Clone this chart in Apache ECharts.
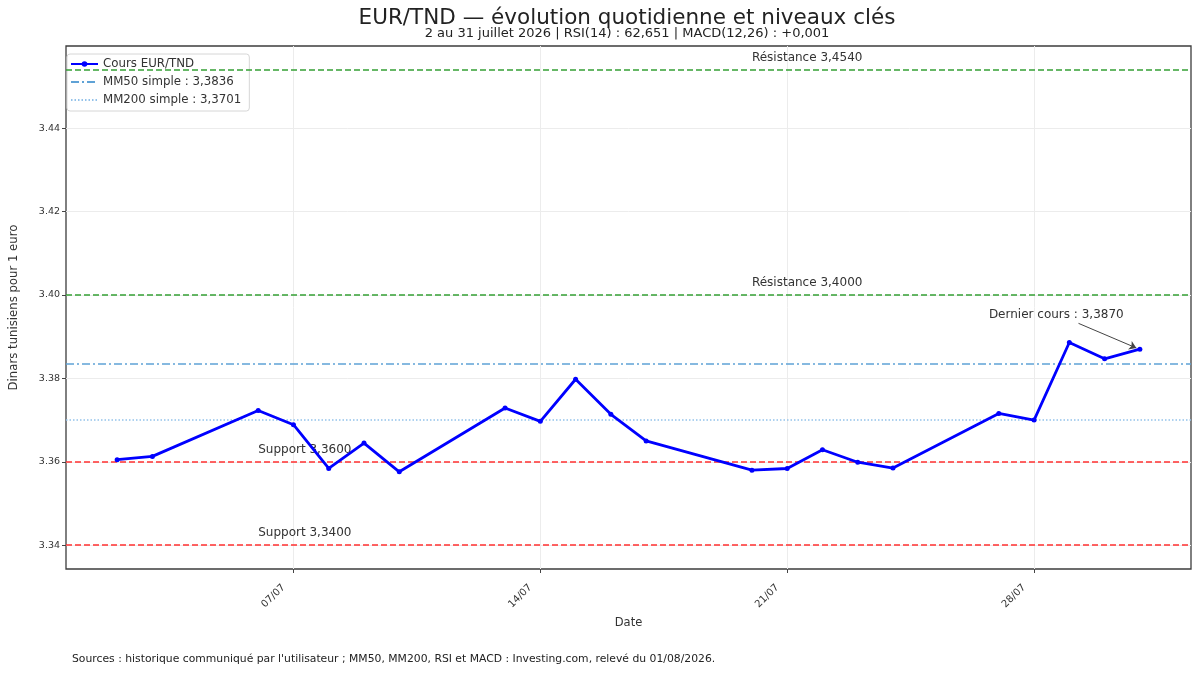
<!DOCTYPE html>
<html>
<head>
<meta charset="utf-8">
<title>EUR/TND</title>
<script src="https://cdn.jsdelivr.net/npm/echarts@6/dist/echarts.min.js"></script>
<style>
  html, body { margin: 0; padding: 0; background: #fff; }
  #chart { width: 1200px; height: 675px; }
</style>
</head>
<body>
<div id="chart"></div>
<script>
// séances de juillet 2026 (jj/mm) et cours de clôture
const dates = ['02/07', '03/07', '06/07', '07/07', '08/07', '09/07', '10/07',
    '13/07', '14/07', '15/07', '16/07', '17/07', '20/07', '21/07', '22/07',
    '23/07', '24/07', '27/07', '28/07', '29/07', '30/07', '31/07'];
const cours = [3.3605, 3.3613, 3.3723, 3.3689, 3.3584, 3.3645, 3.3576,
    3.3729, 3.3697, 3.3798, 3.3714, 3.3650, 3.3580, 3.3584, 3.3629,
    3.3599, 3.3585, 3.3716, 3.3700, 3.3886, 3.3847, 3.3870];
const mm50 = 3.3836;
const mm200 = 3.3701;
const resistances = [3.4540, 3.4000];
const supports = [3.3600, 3.3400];
const xTicks = ['07/07', '14/07', '21/07', '28/07'];
const yTicks = [3.34, 3.36, 3.38, 3.40, 3.42, 3.44];

const DAY = 86400000;
const FONT = 'DejaVu Sans';

function toTs(label) {
    const [d, m] = label.split('/').map(Number);
    return new Date(2026, m - 1, d).getTime();
}
function fmtFr(v) {
    return v.toFixed(4).replace('.', ',');
}
function fmtDate(ts) {
    const d = new Date(ts);
    const pad = n => (n < 10 ? '0' : '') + n;
    return pad(d.getDate()) + '/' + pad(d.getMonth() + 1);
}

const ts = dates.map(toTs);
const points = ts.map((t, i) => [t, cours[i]]);
const lastTs = ts[ts.length - 1];
const lastVal = cours[cours.length - 1];

// marges automatiques de 5 % façon matplotlib
const xPad = (lastTs - ts[0]) * 0.05;
const yLo = Math.min(...cours, ...supports);
const yHi = Math.max(...cours, ...resistances);
const yPad = (yHi - yLo) * 0.05;

const levelLabel = (text, t, v) => ({
    coord: [t, v],
    symbolSize: 0,
    label: {
        show: true,
        position: 'right',
        distance: 0,
        offset: [0, -12],
        formatter: text,
        color: '#333',
        fontFamily: FONT,
        fontSize: 12
    }
});

const levelLine = (v, color) => ({
    yAxis: v,
    lineStyle: { color: color, type: [6, 3], width: 1.6 }
});

const chart = echarts.init(document.getElementById('chart'));

chart.setOption({
    animation: false,
    backgroundColor: '#fff',
    textStyle: { fontFamily: FONT },
    graphic: [
        {
            type: 'text', x: 627, y: 7,
            style: {
                text: 'EUR/TND — évolution quotidienne et niveaux clés',
                fontFamily: FONT, fontSize: 21.5, fill: '#222',
                textAlign: 'center', textVerticalAlign: 'top'
            }
        },
        {
            type: 'text', x: 627, y: 27,
            style: {
                text: '2 au 31 juillet 2026 | RSI(14) : 62,651 | MACD(12,26) : +0,001',
                fontFamily: FONT, fontSize: 13, fill: '#222',
                textAlign: 'center', textVerticalAlign: 'top'
            }
        },
        {
            type: 'text', x: 72, y: 654,
            style: {
                text: 'Sources : historique communiqué par l\'utilisateur ; MM50, MM200, RSI et MACD : Investing.com, relevé du 01/08/2026.',
                fontFamily: FONT, fontSize: 10.8, fill: '#222',
                textVerticalAlign: 'top'
            }
        }
    ],
    legend: {
        data: ['Cours EUR/TND', 'MM50 simple : ' + fmtFr(mm50), 'MM200 simple : ' + fmtFr(mm200)],
        orient: 'vertical',
        left: 67,
        top: 54,
        itemWidth: 27,
        itemHeight: 7,
        itemGap: 6,
        padding: [4, 8, 5, 3],
        backgroundColor: 'rgba(255,255,255,0.85)',
        borderColor: '#d6d6d6',
        borderWidth: 1,
        borderRadius: 3,
        textStyle: { fontFamily: FONT, fontSize: 11.8, color: '#333' }
    },
    grid: {
        left: 62,
        right: 9,
        top: 46,
        bottom: 106,
        show: true,
        borderColor: '#3c3c3c',
        borderWidth: 1.3
    },
    xAxis: {
        type: 'value',
        min: ts[0] - xPad,
        max: lastTs + xPad,
        name: 'Date',
        nameLocation: 'middle',
        nameGap: 45,
        nameTextStyle: { fontFamily: FONT, fontSize: 11.5, color: '#333' },
        axisLine: { show: false },
        axisTick: {
            show: true,
            length: 4,
            lineStyle: { color: '#444' },
            customValues: xTicks.map(toTs)
        },
        axisLabel: {
            customValues: xTicks.map(toTs),
            formatter: v => fmtDate(v),
            rotate: 45,
            fontFamily: FONT,
            fontSize: 10,
            color: '#333',
            margin: 7,
            padding: [0, 14, 0, 0]
        },
        splitLine: { show: true, lineStyle: { color: '#ececec', width: 1 } }
    },
    yAxis: {
        type: 'value',
        min: yLo - yPad,
        max: yHi + yPad,
        name: 'Dinars tunisiens pour 1 euro',
        nameLocation: 'middle',
        nameGap: 46,
        nameTextStyle: { fontFamily: FONT, fontSize: 11.7, color: '#333' },
        axisLine: { show: false },
        axisTick: {
            show: true,
            length: 4,
            lineStyle: { color: '#444' },
            customValues: yTicks
        },
        axisLabel: {
            customValues: yTicks,
            formatter: v => v.toFixed(2),
            fontFamily: FONT,
            fontSize: 9.5,
            color: '#333',
            margin: 6
        },
        splitLine: { show: true, lineStyle: { color: '#ececec', width: 1 } }
    },
    series: [
        {
            name: 'niveaux',
            type: 'line',
            data: [],
            silent: true,
            markLine: {
                silent: true,
                precision: 4,
                symbol: ['none', 'none'],
                label: { show: false },
                data: [
                    levelLine(resistances[0], '#34a034'),
                    levelLine(resistances[1], '#34a034'),
                    levelLine(supports[0], '#ff3030'),
                    levelLine(supports[1], '#ff3030')
                ]
            },
            markPoint: {
                silent: true,
                data: [
                    levelLabel('Résistance ' + fmtFr(resistances[0]), toTs('20/07'), resistances[0]),
                    levelLabel('Résistance ' + fmtFr(resistances[1]), toTs('20/07'), resistances[1]),
                    levelLabel('Support ' + fmtFr(supports[0]), toTs('06/07'), supports[0]),
                    levelLabel('Support ' + fmtFr(supports[1]), toTs('06/07'), supports[1])
                ]
            }
        },
        {
            name: 'MM50 simple : ' + fmtFr(mm50),
            type: 'line',
            data: [],
            symbol: 'none',
            lineStyle: { color: '#5fa2d6', width: 1.6, type: [8, 3, 2, 3] },
            // symbole de légende masqué
            itemStyle: { color: 'rgba(0,0,0,0)', borderWidth: 0 },
            markLine: {
                silent: true,
                precision: 4,
                symbol: ['none', 'none'],
                label: { show: false },
                lineStyle: { color: '#5fa2d6', width: 1.6, type: [8, 3, 2, 3] },
                data: [{ yAxis: mm50 }]
            }
        },
        {
            name: 'MM200 simple : ' + fmtFr(mm200),
            type: 'line',
            data: [],
            symbol: 'none',
            lineStyle: { color: '#93c2ea', width: 1.6, type: [1.5, 2] },
            itemStyle: { color: 'rgba(0,0,0,0)', borderWidth: 0 },
            markLine: {
                silent: true,
                precision: 4,
                symbol: ['none', 'none'],
                label: { show: false },
                lineStyle: { color: '#93c2ea', width: 1.6, type: [1.5, 2] },
                data: [{ yAxis: mm200 }]
            }
        },
        {
            name: 'Cours EUR/TND',
            type: 'line',
            data: points,
            z: 5,
            symbol: 'circle',
            symbolSize: 5,
            showSymbol: true,
            lineStyle: { color: '#0000ff', width: 2.8 },
            itemStyle: { color: '#0000ff' },
            markLine: {
                silent: true,
                precision: 4,
                symbol: ['none', 'arrow'],
                symbolSize: 7,
                label: { show: false },
                lineStyle: { color: '#444', width: 1, type: 'solid' },
                data: [[
                    { coord: [lastTs - 1.74 * DAY, lastVal + 0.0062] },
                    { coord: [lastTs - 0.1 * DAY, lastVal + 0.0003] }
                ]]
            },
            markPoint: {
                silent: true,
                data: [{
                    coord: [lastTs - 2.37 * DAY, lastVal + 0.0083],
                    symbolSize: 0,
                    label: {
                        show: true,
                        position: 'inside',
                        formatter: 'Dernier cours : ' + fmtFr(lastVal),
                        color: '#333',
                        fontFamily: FONT,
                        fontSize: 12
                    }
                }]
            }
        }
    ]
});
</script>
</body>
</html>
